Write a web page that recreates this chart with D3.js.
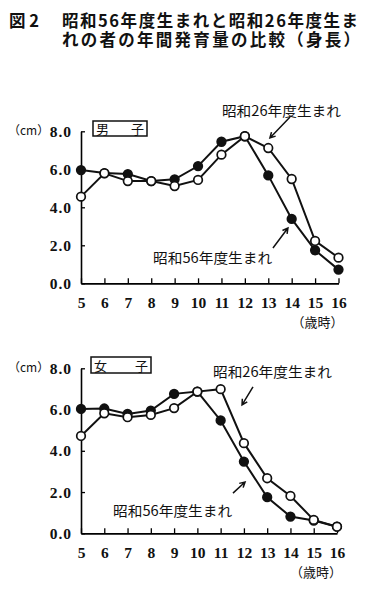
<!DOCTYPE html>
<html lang="ja">
<head>
    <meta charset="UTF-8">
    <title>図2 身長の年間発育量</title>
    <script src="https://d3js.org/d3.v7.min.js"></script>
</head>

<style>
    body {
        margin: 0;
        padding: 0;
        background: #fff;
    }

    svg {
        display: block;
    }

    .jp {
        font-family: "Noto Sans CJK JP", "Noto Sans", sans-serif;
    }

    .tick text {
        font-family: "Liberation Serif", "DejaVu Serif", serif;
        font-weight: bold;
        font-size: 15.5px;
        fill: #111;
    }
</style>

<body>
<div class="chart"></div>

<script>
  /** DATA: year-on-year growth in height (cm), age 5..16 */
  var ages = [5, 6, 7, 8, 9, 10, 11, 12, 13, 14, 15, 16];
  var yTicks = [0, 2, 4, 6, 8];

  // boys (男子)
  var boysS56 = [5.96, 5.8, 5.75, 5.38, 5.47, 6.17, 7.45, 7.74, 5.68, 3.39, 1.74, 0.72];
  var boysS26 = [4.56, 5.79, 5.38, 5.38, 5.12, 5.44, 6.77, 7.74, 7.12, 5.49, 2.23, 1.35];

  // girls (女子)
  var girlsS56 = [6.03, 6.05, 5.79, 5.95, 6.76, 6.87, 5.47, 3.48, 1.75, 0.81, 0.62, 0.32];
  var girlsS26 = [4.72, 5.82, 5.63, 5.74, 6.07, 6.87, 6.99, 4.37, 2.67, 1.81, 0.65, 0.32];

  var labelS56 = '昭和56年度生まれ';
  var labelS26 = '昭和26年度生まれ';

  var svg = d3.select('.chart')
    .append('svg')
    .attr('width', 370)
    .attr('height', 590);

  /** TITLE */
  var title = svg.append('g').classed('jp', true)
    .attr('font-weight', 'bold')
    .attr('font-size', 16.5)
    .attr('fill', '#111');
  title.append('text').attr('x', 9).attr('y', 27).text('図 2');
  title.append('text').attr('x', 62).attr('y', 27)
    .attr('textLength', 296).attr('lengthAdjust', 'spacing')
    .text('昭和56年度生まれと昭和26年度生ま');
  title.append('text').attr('x', 62).attr('y', 46)
    .attr('textLength', 298).attr('lengthAdjust', 'spacing')
    .text('れの者の年間発育量の比較（身長）');

  /** PANELS */
  drawPanel({
    name: '男子',
    filled: boysS56,
    open: boysS26,
    xRange: [81, 338.5],
    yRange: [283.3, 131.3],
    box: [93, 121, 54, 15],
    lab26: [11.02, 9.06], arrow26: [[13.93, 8.75], [13.07, 7.65]],
    lab56: [8.08, 1.33], arrow56: [[13.2, 1.86], [13.84, 2.91]]
  });

  drawPanel({
    name: '女子',
    filled: girlsS56,
    open: girlsS26,
    xRange: [81, 337],
    yRange: [533.3, 368.3],
    box: [91, 357, 60, 16],
    lab26: [10.67, 7.82], arrow26: [[12.39, 7.1], [11.92, 6.23]],
    lab56: [6.38, 1.08], arrow56: [[11.53, 1.95], [12.05, 2.49]]
  });

  /** FUNCTIONS **/
  function drawPanel(p) {
    var x = d3.scaleLinear().domain([5, 16]).range(p.xRange);
    var y = d3.scaleLinear().domain([0, 8]).range(p.yRange);
    var g = svg.append('g');

    // y axis, ticks point inwards
    var yAxis = g.append('g')
      .attr('transform', 'translate(' + x(5) + ',0)')
      .call(d3.axisLeft(y).tickValues(yTicks).tickFormat(d3.format('.1f'))
        .tickSizeInner(-4).tickSizeOuter(0).tickPadding(9));
    yAxis.select('.domain').attr('stroke-width', 1.6);
    yAxis.selectAll('.tick line').attr('stroke-width', 1.3);
    yAxis.selectAll('.tick text').attr('letter-spacing', 1);

    // x axis, ticks point upwards
    var xAxis = g.append('g')
      .attr('transform', 'translate(0,' + y(0) + ')')
      .call(d3.axisBottom(x).tickValues(ages).tickFormat(d3.format('d'))
        .tickSizeInner(-5).tickSizeOuter(0).tickPadding(14));
    xAxis.select('.domain').attr('stroke-width', 1.8);
    xAxis.selectAll('.tick line').attr('stroke-width', 1.3);

    // unit labels
    g.append('text').classed('jp', true)
      .attr('x', 8).attr('y', y(8) + 4)
      .attr('font-size', 12).attr('fill', '#111')
      .text('（cm）');
    g.append('text').classed('jp', true)
      .attr('x', p.xRange[1] + 5).attr('y', y(0) + 44)
      .attr('text-anchor', 'end')
      .attr('font-size', 13).attr('fill', '#111')
      .text('（歳時）');

    // boxed panel name
    g.append('rect')
      .attr('x', p.box[0]).attr('y', p.box[1])
      .attr('width', p.box[2]).attr('height', p.box[3])
      .attr('fill', 'none').attr('stroke', '#111').attr('stroke-width', 1.5);
    g.append('text').classed('jp', true)
      .attr('x', p.box[0] + 3).attr('y', p.box[1] + p.box[3] - 2.5)
      .attr('textLength', p.box[2] - 6).attr('lengthAdjust', 'spacing')
      .attr('font-size', 13).attr('fill', '#111')
      .text(p.name);

    // series: filled first, open drawn on top
    var line = d3.line()
      .x(function (d, i) { return x(ages[i]); })
      .y(function (d) { return y(d); });

    [[p.filled, '#111'], [p.open, '#fff']].forEach(function (s) {
      g.append('path')
        .datum(s[0])
        .attr('d', line)
        .attr('fill', 'none')
        .attr('stroke', '#111')
        .attr('stroke-width', 2);
      g.selectAll(null)
        .data(s[0])
        .enter().append('circle')
        .attr('cx', function (d, i) { return x(ages[i]); })
        .attr('cy', function (d) { return y(d); })
        .attr('r', 4.3)
        .attr('fill', s[1])
        .attr('stroke', '#111')
        .attr('stroke-width', 1.7);
    });

    // annotations
    addLabel(g, x(p.lab26[0]), y(p.lab26[1]), labelS26);
    addLabel(g, x(p.lab56[0]), y(p.lab56[1]), labelS56);
    addArrow(g, x(p.arrow26[0][0]), y(p.arrow26[0][1]), x(p.arrow26[1][0]), y(p.arrow26[1][1]));
    addArrow(g, x(p.arrow56[0][0]), y(p.arrow56[0][1]), x(p.arrow56[1][0]), y(p.arrow56[1][1]));
  }

  function addLabel(g, px, py, txt) {
    g.append('text').classed('jp', true)
      .attr('x', px).attr('y', py)
      .attr('dy', '0.36em')
      .attr('font-size', 14)
      .attr('fill', '#111')
      .attr('textLength', 119).attr('lengthAdjust', 'spacingAndGlyphs')
      .text(txt);
  }

  /** simple arrow: shaft plus a V head at the end point */
  function addArrow(g, x1, y1, x2, y2) {
    var ang = Math.atan2(y2 - y1, x2 - x1);
    var len = 6, spread = 0.5;
    var h1 = [x2 - len * Math.cos(ang - spread), y2 - len * Math.sin(ang - spread)];
    var h2 = [x2 - len * Math.cos(ang + spread), y2 - len * Math.sin(ang + spread)];
    g.append('path')
      .attr('d', 'M' + x1 + ',' + y1 + 'L' + x2 + ',' + y2 +
        'M' + h1[0] + ',' + h1[1] + 'L' + x2 + ',' + y2 + 'L' + h2[0] + ',' + h2[1])
      .attr('fill', 'none')
      .attr('stroke', '#111')
      .attr('stroke-width', 1.5);
  }
</script>
</body>
</html>
